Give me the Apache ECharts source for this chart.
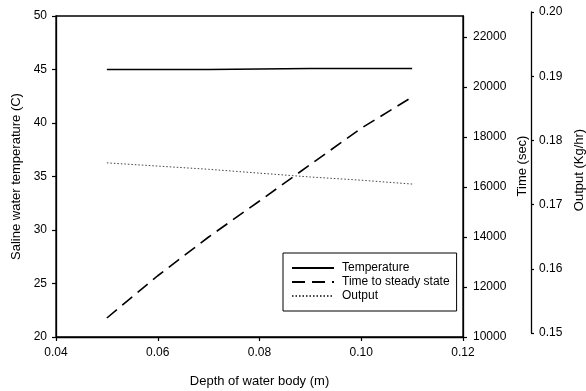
<!DOCTYPE html>
<html>
<head>
<meta charset="utf-8">
<script src="https://cdn.jsdelivr.net/npm/echarts@6/dist/echarts.min.js"></script>
<style>
  html, body { margin: 0; padding: 0; background: #fff; }
  #chart { width: 586px; height: 391px; }
</style>
</head>
<body>
<div id="chart"></div>
<script>
// values
const depth = [0.05, 0.06, 0.07, 0.08, 0.09, 0.10, 0.11];
const temperature = [45.0, 45.0, 45.0, 45.05, 45.1, 45.1, 45.1];
const timeSteady = [10760, 12450, 14000, 15440, 16900, 18350, 19600];
const output = [0.1765, 0.1760, 0.1755, 0.1749, 0.1743, 0.1738, 0.1732];

const seriesNames = ['Temperature', 'Time to steady state', 'Output'];

const font = 'Liberation Sans, Arial, sans-serif';

function zip(xs, ys) {
    return xs.map((x, i) => [x, ys[i]]);
}

const myChart = echarts.init(document.getElementById('chart'), null, { renderer: 'canvas' });

const axisCommon = {
    axisLine: { show: true, lineStyle: { color: '#000', width: 1.3 } },
    axisTick: { show: true, inside: false, length: 4, lineStyle: { color: '#000', width: 1.2 } },
    splitLine: { show: false },
    axisLabel: { color: '#000', fontSize: 12, fontFamily: font }
};

const option = {
    backgroundColor: '#fff',
    animation: false,
    grid: [
        {
            left: 56, right: 123, top: 16, bottom: 54,
            outerBoundsMode: 'none',
            show: true, borderColor: '#000', borderWidth: 1.3
        },
        // output axis sits a few px higher than the main frame in the original
        { left: 56, right: 123, top: 12, bottom: 58, outerBoundsMode: 'none', show: false }
    ],
    xAxis: [
        Object.assign({}, axisCommon, {
            gridIndex: 0,
            type: 'value',
            min: 0.04,
            max: 0.12,
            interval: 0.02,
            axisLabel: Object.assign({}, axisCommon.axisLabel, {
                margin: 10,
                formatter: v => v.toFixed(2)
            }),
            name: 'Depth of water body (m)',
            nameLocation: 'middle',
            nameGap: 38,
            nameTextStyle: { color: '#000', fontSize: 13, fontFamily: font }
        }),
        { gridIndex: 1, type: 'value', min: 0.04, max: 0.12, show: false }
    ],
    yAxis: [
        Object.assign({}, axisCommon, {
            gridIndex: 0,
            type: 'value',
            position: 'left',
            min: 20,
            max: 50,
            interval: 5,
            axisLabel: Object.assign({}, axisCommon.axisLabel, { margin: 9 }),
            name: 'Saline water temperature (C)',
            nameLocation: 'middle',
            nameGap: 31,
            nameTextStyle: { color: '#000', fontSize: 13, fontFamily: font }
        }),
        Object.assign({}, axisCommon, {
            gridIndex: 0,
            type: 'value',
            position: 'right',
            min: 10000,
            max: 22840,
            interval: 2000,
            axisLabel: Object.assign({}, axisCommon.axisLabel, {
                margin: 10,
                showMaxLabel: false,
                formatter: v => String(v)
            })
        }),
        Object.assign({}, axisCommon, {
            gridIndex: 1,
            type: 'value',
            position: 'right',
            offset: 68,
            min: 0.15,
            max: 0.20,
            interval: 0.01,
            axisTick: { show: true, length: 3, lineStyle: { color: '#000', width: 1.2 } },
            axisLabel: Object.assign({}, axisCommon.axisLabel, {
                margin: 8,
                formatter: v => v.toFixed(2)
            })
        })
    ],
    legend: {
        orient: 'vertical',
        left: 283,
        top: 253,
        padding: [9, 7, 9, 8],
        itemWidth: 42,
        itemHeight: 14,
        itemGap: 2,
        itemStyle: { opacity: 0 },
        borderColor: '#000',
        borderWidth: 1,
        backgroundColor: '#fff',
        data: seriesNames,
        textStyle: { color: '#000', fontSize: 12, fontFamily: font, padding: [0, 0, 0, 3] }
    },
    graphic: [
        {
            type: 'text',
            x: 522,
            y: 166,
            rotation: Math.PI / 2,
            style: {
                text: 'Time (sec)',
                fill: '#000',
                font: '13px ' + font,
                textAlign: 'center',
                textVerticalAlign: 'middle'
            }
        },
        {
            type: 'text',
            x: 579,
            y: 170,
            rotation: Math.PI / 2,
            style: {
                text: 'Output (Kg/hr)',
                fill: '#000',
                font: '13px ' + font,
                textAlign: 'center',
                textVerticalAlign: 'middle'
            }
        }
    ],
    series: [
        {
            name: seriesNames[0],
            type: 'line',
            xAxisIndex: 0,
            yAxisIndex: 0,
            data: zip(depth, temperature),
            symbol: 'none',
            lineStyle: { color: '#000', width: 1.5, type: 'solid' },
            itemStyle: { color: '#000' }
        },
        {
            name: seriesNames[1],
            type: 'line',
            xAxisIndex: 0,
            yAxisIndex: 1,
            data: zip(depth, timeSteady),
            symbol: 'none',
            lineStyle: { color: '#000', width: 1.6, type: [13, 7] },
            itemStyle: { color: '#000' }
        },
        {
            name: seriesNames[2],
            type: 'line',
            xAxisIndex: 1,
            yAxisIndex: 2,
            data: zip(depth, output),
            symbol: 'none',
            lineStyle: { color: '#444', width: 1, type: [1.5, 2] },
            itemStyle: { color: '#444' }
        }
    ]
};

myChart.setOption(option, true);
</script>
</body>
</html>
